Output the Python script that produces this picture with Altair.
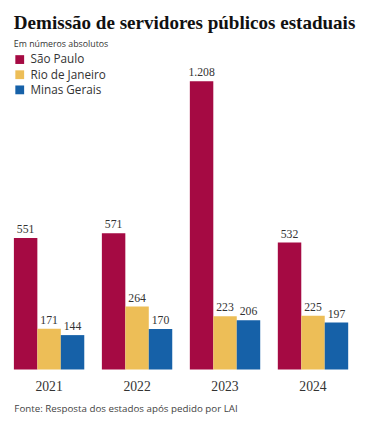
import altair as alt
import pandas as pd

years = ["2021", "2022", "2023", "2024"]
states = ["São Paulo", "Rio de Janeiro", "Minas Gerais"]
sp = [551, 571, 1208, 532]
rj = [171, 264, 223, 225]
mg = [144, 170, 206, 197]
colors = ["#A50A43", "#EDBE57", "#1661A8"]

rows = []
for i, yr in enumerate(years):
    for s, vals in zip(states, [sp, rj, mg]):
        rows.append({"ano": yr, "estado": s, "valor": vals[i],
                     "rotulo": f"{vals[i]:,}".replace(",", ".")})
df = pd.DataFrame(rows)

x = alt.X("ano:N", sort=years,
          scale=alt.Scale(paddingInner=0.2, paddingOuter=0.067),
          axis=alt.Axis(title="Fonte: Resposta dos estados após pedido por LAI",
                        titleAnchor="start", titleX=6, titleFont="Open Sans",
                        titleFontSize=10, titleFontWeight="normal", titleColor="#444",
                        titlePadding=10,
                        labelAngle=0, domain=False, ticks=False,
                        labelFont="Liberation Serif", labelFontSize=14,
                        labelColor="#333", labelPadding=11))
xo = alt.XOffset("estado:N", scale=alt.Scale(domain=states, paddingInner=0, paddingOuter=0))
y = alt.Y("valor:Q", scale=alt.Scale(domain=[0, 1282]), axis=None)

base = alt.Chart(df).encode(x=x, xOffset=xo, y=y)

bars = base.mark_bar().encode(
    color=alt.Color("estado:N", scale=alt.Scale(domain=states, range=colors),
                    legend=alt.Legend(orient="none", legendX=6, legendY=-10, title=None,
                                      symbolType="square", symbolSize=81,
                                      symbolStrokeWidth=0, labelFont="Open Sans",
                                      labelFontSize=12, labelColor="#333",
                                      rowPadding=3.5, labelOffset=5))
)
labels = base.mark_text(baseline="bottom", dy=-2, font="Liberation Serif",
                        fontSize=12, color="#333").encode(text="rotulo:N")

chart = (bars + labels).properties(
    width=354, height=313,
    autosize=alt.AutoSizeParams(type="none"),
    padding={"left": 0, "top": 52, "right": 4, "bottom": 50},
    title=alt.TitleParams("Demissão de servidores públicos estaduais",
                          subtitle="Em números absolutos", anchor="start", dx=6,
                          font="Liberation Serif", fontSize=19.5, fontWeight="bold",
                          color="#111", subtitleFont="Open Sans", subtitleFontSize=9,
                          subtitleColor="#333", subtitlePadding=7, offset=4),
).configure_view(stroke=None)

chart.save("out.html", embed_options={"renderer": "svg", "actions": False})
